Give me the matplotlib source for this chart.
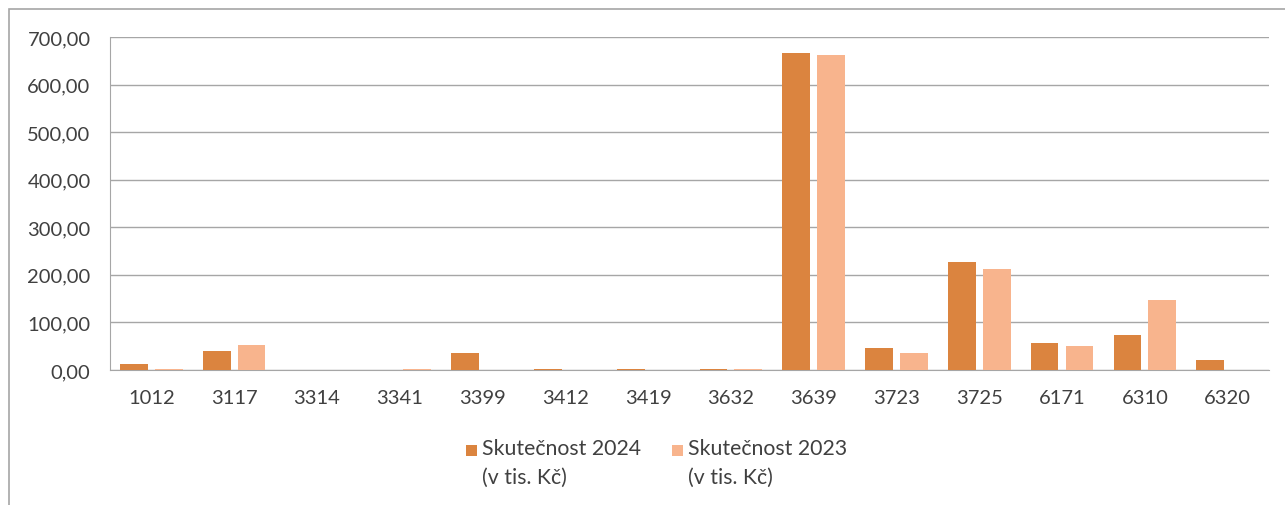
import matplotlib
matplotlib.use("Agg")
import matplotlib.pyplot as plt
import matplotlib.ticker as mticker
from matplotlib.patches import Rectangle
import numpy as np

# Data (v tis. Kč)
paragrafy = ["1012", "3117", "3314", "3341", "3399", "3412", "3419",
             "3632", "3639", "3723", "3725", "6171", "6310", "6320"]
skutecnost_2024 = [12, 40, 0, 0, 35, 2, 2, 2, 667, 47, 226, 57, 74, 22]
skutecnost_2023 = [2, 52, 0, 2, 0, 0, 0, 2, 662, 35, 213, 51, 147, 0]
popisky = ["Skutečnost 2024\n(v tis. Kč)", "Skutečnost 2023\n(v tis. Kč)"]

BARVA_2024 = "#DB843F"
BARVA_2023 = "#F8B48D"
TEXT = "#404040"
SEDA = "#A6A6A6"

plt.rcParams["font.family"] = ["Lato", "DejaVu Sans"]

W, H = 1285, 506
fig = plt.figure(figsize=(W / 100, H / 100), dpi=100)
ax = fig.add_axes([110 / W, 1 - 371 / H, 1159 / W, 333 / H])

x = np.arange(len(paragrafy))
sirka = 0.335
posun = sirka / 2 + 0.043

ax.bar(x - posun, skutecnost_2024, sirka, color=BARVA_2024, zorder=3)
ax.bar(x + posun, skutecnost_2023, sirka, color=BARVA_2023, zorder=3)

ax.set_xlim(-0.5, len(paragrafy) - 0.5)
ax.set_ylim(0, 700)
ax.set_xticks(x)
ax.set_xticklabels(paragrafy, fontsize=14.5, color=TEXT)
ax.yaxis.set_major_locator(mticker.MultipleLocator(100))
ax.yaxis.set_major_formatter(
    mticker.FuncFormatter(lambda v, _: f"{v:.2f}".replace(".", ",")))
ax.tick_params(axis="y", labelsize=14.5, colors=TEXT, length=0, pad=14)
ax.tick_params(axis="x", length=0, pad=14)

ax.grid(axis="y", color=SEDA, linewidth=1, zorder=0)
for strana in ["top", "right"]:
    ax.spines[strana].set_visible(False)
ax.spines["left"].set_color(SEDA)
ax.spines["bottom"].set_color(SEDA)

# Legenda (ručně, značka zarovnaná s prvním řádkem)
for barva, text, x0 in zip([BARVA_2024, BARVA_2023], popisky, [466, 672]):
    fig.patches.append(Rectangle((x0 / W, 1 - 457 / H), 11 / W, 11 / H,
                                 transform=fig.transFigure,
                                 facecolor=barva, edgecolor="none"))
    fig.text((x0 + 16) / W, 1 - 439 / H, text, ha="left", va="top",
             fontsize=15.3, color=TEXT, linespacing=1.55)

# Vnější rámeček grafu
fig.patches.append(Rectangle((9 / W, -0.05), 1.1, 1 - 10 / H + 0.05,
                             transform=fig.transFigure, fill=False,
                             edgecolor=SEDA, linewidth=1.2))

fig.savefig("out.png", dpi=100)
